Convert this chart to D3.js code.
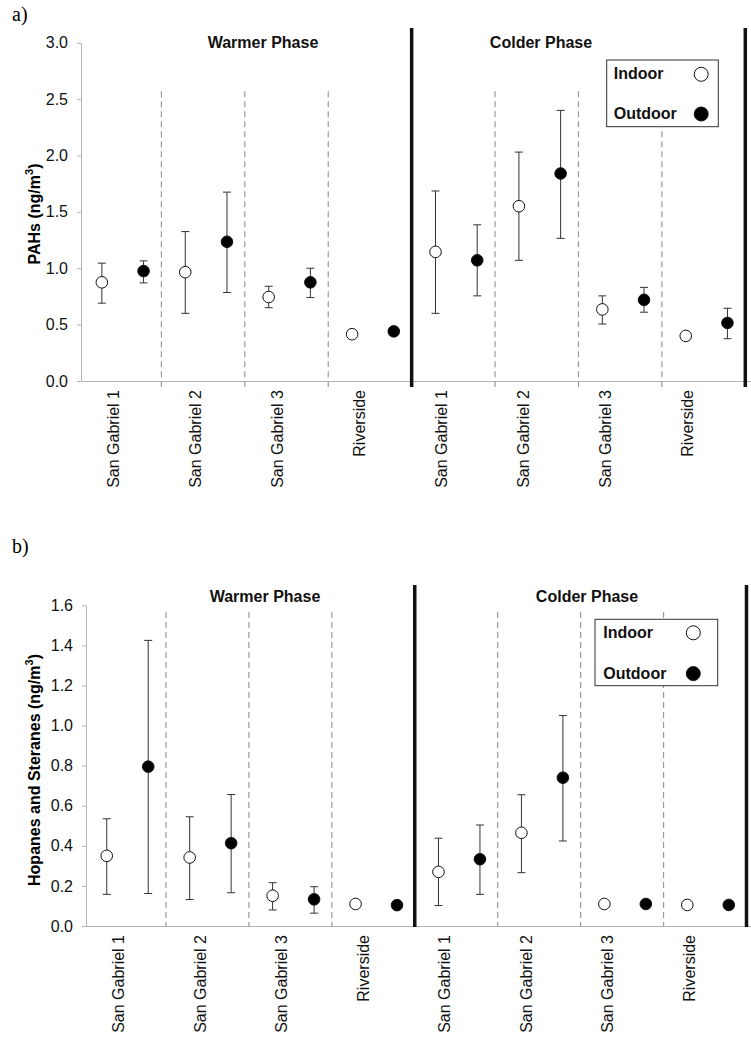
<!DOCTYPE html>
<html>
<head>
<meta charset="utf-8">
<script src="https://cdn.jsdelivr.net/npm/d3@7/dist/d3.min.js"></script>
<style>
  html, body { margin: 0; padding: 0; background: #fff; }
  svg { display: block; font-family: "Liberation Sans", Arial, sans-serif; }
</style>
</head>
<body>
<script>
// ---------------- data ----------------
const sites = ["San Gabriel 1", "San Gabriel 2", "San Gabriel 3", "Riverside"];
const phases = ["Warmer Phase", "Colder Phase"];
const seriesNames = ["Indoor", "Outdoor"];

// PAHs (ng/m3): order = Warmer SG1, SG2, SG3, Riverside, Colder SG1, SG2, SG3, Riverside
const pahIndoor      = [0.875, 0.965, 0.745, 0.415, 1.145, 1.550, 0.635, 0.400];
const pahIndoorLow   = [0.690, 0.600, 0.650, null,  0.600, 1.070, 0.505, null];
const pahIndoorHigh  = [1.045, 1.325, 0.840, null,  1.685, 2.030, 0.755, null];
const pahOutdoor     = [0.975, 1.235, 0.875, 0.440, 1.070, 1.840, 0.720, 0.515];
const pahOutdoorLow  = [0.870, 0.785, 0.740, null,  0.755, 1.265, 0.610, 0.375];
const pahOutdoorHigh = [1.065, 1.675, 1.000, null,  1.385, 2.400, 0.830, 0.645];
const pahTicks = [0, 0.5, 1.0, 1.5, 2.0, 2.5, 3.0];

// Hopanes and Steranes (ng/m3)
const hopIndoor      = [0.350, 0.342, 0.151, 0.110, 0.270, 0.465, 0.110, 0.105];
const hopIndoorLow   = [0.158, 0.132, 0.080, null,  0.102, 0.266, null,  null];
const hopIndoorHigh  = [0.535, 0.545, 0.216, null,  0.438, 0.655, null,  null];
const hopOutdoor     = [0.795, 0.413, 0.133, 0.104, 0.333, 0.740, 0.110, 0.105];
const hopOutdoorLow  = [0.162, 0.166, 0.064, null,  0.158, 0.424, null,  null];
const hopOutdoorHigh = [1.425, 0.656, 0.196, null,  0.504, 1.050, null,  null];
const hopTicks = [0, 0.2, 0.4, 0.6, 0.8, 1.0, 1.2, 1.4, 1.6];

// ---------------- layout ----------------
const W = 751, H = 1050;
const panels = [
  {
    letter: "a)", letterY: 21,
    title: "PAHs (ng/m", titleCenterY: 214, titleBaseX: 40,
    ticks: pahTicks,
    inMean: pahIndoor, inLo: pahIndoorLow, inHi: pahIndoorHigh,
    outMean: pahOutdoor, outLo: pahOutdoorLow, outHi: pahOutdoorHigh,
    x0: 81, x1: 748.3, yTop: 42.7, yBot: 381,
    dashTopVal: 2.57, dashBelow: 6, thickTopPx: 28, thickBelow: 6,
    phaseX: [263, 541], phaseY: 42.5,
    legend: {x: 606.7, y: 60, w: 111.6, h: 66.7, tx: 7, cx: 94.5, r1: 13.8, r2: 53.5},
    labelTop: 390
  },
  {
    letter: "b)", letterY: 553,
    title: "Hopanes and Steranes (ng/m", titleCenterY: 770, titleBaseX: 40,
    ticks: hopTicks,
    inMean: hopIndoor, inLo: hopIndoorLow, inHi: hopIndoorHigh,
    outMean: hopOutdoor, outLo: hopOutdoorLow, outHi: hopOutdoorHigh,
    x0: 86, x1: 749.5, yTop: 605.3, yBot: 926,
    dashTopVal: 1.567, dashBelow: 1, thickTopPx: 585, thickBelow: 1,
    phaseX: [265, 587], phaseY: 596.7,
    legend: {x: 595, y: 619.3, w: 122.7, h: 66.4, tx: 8.3, cx: 98.3, r1: 13, r2: 53.8},
    labelTop: 935
  }
];

const svg = d3.select("body").append("svg")
  .attr("width", W).attr("height", H)
  .attr("viewBox", `0 0 ${W} ${H}`);
svg.append("rect").attr("width", W).attr("height", H).attr("fill", "#fff");

const axisGray = "#b4b4b4";

panels.forEach(cfg => {
  const g = svg.append("g");

  const groups = [];
  phases.forEach(ph => sites.forEach(s => groups.push(ph + "|" + s)));
  const slots = [];
  groups.forEach(gr => seriesNames.forEach(t => slots.push(gr + "|" + t)));

  const x = d3.scalePoint().domain(slots).range([cfg.x0, cfg.x1]).padding(0.5);
  const step = x.step();
  const y = d3.scaleLinear().domain([0, d3.max(cfg.ticks)]).range([cfg.yBot, cfg.yTop]);

  // panel letter
  g.append("text").attr("x", 12).attr("y", cfg.letterY)
    .attr("font-family", "'Liberation Serif', 'Times New Roman', serif")
    .attr("font-size", 20).attr("fill", "#000").text(cfg.letter);

  // y axis
  const yAxis = d3.axisLeft(y).tickValues(cfg.ticks).tickSize(4).tickSizeOuter(0)
    .tickPadding(9).tickFormat(d3.format(".1f"));
  const ya = g.append("g").attr("transform", `translate(${cfg.x0},0)`).call(yAxis);
  ya.select(".domain").attr("stroke", axisGray);
  ya.selectAll(".tick line").attr("stroke", axisGray);
  ya.selectAll(".tick text").attr("font-size", 16).attr("fill", "#111")
    .attr("font-family", "'Liberation Sans', Arial, sans-serif");

  // x axis line
  const xLineScale = d3.scaleLinear().range([cfg.x0, W]);
  const xa = g.append("g").attr("transform", `translate(0,${cfg.yBot})`)
    .call(d3.axisBottom(xLineScale).tickValues([]).tickSizeOuter(0));
  xa.select(".domain").attr("stroke", axisGray);

  // y axis title
  const tt = g.append("text")
    .attr("transform", `translate(${cfg.titleBaseX},${cfg.titleCenterY}) rotate(-90)`)
    .attr("text-anchor", "middle").attr("font-size", 16).attr("font-weight", "bold")
    .attr("fill", "#000");
  tt.append("tspan").text(cfg.title);
  tt.append("tspan").attr("font-size", 11).attr("dy", -7).text("3");
  tt.append("tspan").attr("dy", 7).text(")");

  // dividers
  groups.forEach((gr, gi) => {
    const bx = x(gr + "|Outdoor") + step / 2 - 3;
    if (gi % 4 === 3) {
      g.append("line").attr("x1", bx).attr("x2", bx)
        .attr("y1", cfg.thickTopPx).attr("y2", cfg.yBot + cfg.thickBelow)
        .attr("stroke", "#111").attr("stroke-width", 3.5);
    } else {
      g.append("line").attr("x1", bx).attr("x2", bx)
        .attr("y1", y(cfg.dashTopVal)).attr("y2", cfg.yBot + cfg.dashBelow)
        .attr("stroke", "#9a9a9a").attr("stroke-width", 1.2)
        .attr("stroke-dasharray", "6,4");
    }
  });

  // phase titles
  phases.forEach((ph, pi) => {
    g.append("text").attr("x", cfg.phaseX[pi]).attr("y", cfg.phaseY)
      .attr("dy", "0.35em").attr("text-anchor", "middle")
      .attr("font-size", 16).attr("font-weight", "bold").attr("fill", "#111").text(ph);
  });

  // category labels
  const lab = d3.scalePoint().domain(groups).range([cfg.x0 + 32, cfg.x1 - 61]);
  groups.forEach(gr => {
    const name = gr.split("|")[1];
    g.append("text")
      .attr("transform", `translate(${lab(gr) + 6},${cfg.labelTop}) rotate(-90)`)
      .attr("text-anchor", "end").attr("font-size", 16).attr("fill", "#111").text(name);
  });

  // points
  const recs = [];
  groups.forEach((gr, gi) => {
    recs.push({key: gr + "|Indoor", type: "Indoor", m: cfg.inMean[gi], lo: cfg.inLo[gi], hi: cfg.inHi[gi]});
    recs.push({key: gr + "|Outdoor", type: "Outdoor", m: cfg.outMean[gi], lo: cfg.outLo[gi], hi: cfg.outHi[gi]});
  });

  const eb = g.append("g").attr("stroke", "#333").attr("stroke-width", 1);
  recs.filter(d => d.lo != null && d.hi != null).forEach(d => {
    const cx = x(d.key);
    eb.append("line").attr("x1", cx).attr("x2", cx).attr("y1", y(d.lo)).attr("y2", y(d.hi));
    eb.append("line").attr("x1", cx - 4).attr("x2", cx + 4).attr("y1", y(d.lo)).attr("y2", y(d.lo));
    eb.append("line").attr("x1", cx - 4).attr("x2", cx + 4).attr("y1", y(d.hi)).attr("y2", y(d.hi));
  });

  g.append("g").selectAll("circle").data(recs).join("circle")
    .attr("cx", d => x(d.key)).attr("cy", d => y(d.m)).attr("r", 5.8)
    .attr("fill", d => d.type === "Indoor" ? "#fff" : "#000")
    .attr("stroke", "#111").attr("stroke-width", 1);

  // legend
  const L = cfg.legend;
  const lg = g.append("g").attr("transform", `translate(${L.x},${L.y})`);
  lg.append("rect").attr("width", L.w).attr("height", L.h)
    .attr("fill", "#fff").attr("stroke", "#333").attr("stroke-width", 1);
  seriesNames.forEach((s, i) => {
    const ry = i === 0 ? L.r1 : L.r2;
    lg.append("text").attr("x", L.tx).attr("y", ry).attr("dy", "0.35em")
      .attr("font-size", 16).attr("font-weight", "bold").attr("fill", "#111").text(s);
    lg.append("circle").attr("cx", L.cx).attr("cy", ry + 0.5).attr("r", 7)
      .attr("fill", s === "Indoor" ? "#fff" : "#000").attr("stroke", "#111").attr("stroke-width", 1);
  });
});
</script>
</body>
</html>
